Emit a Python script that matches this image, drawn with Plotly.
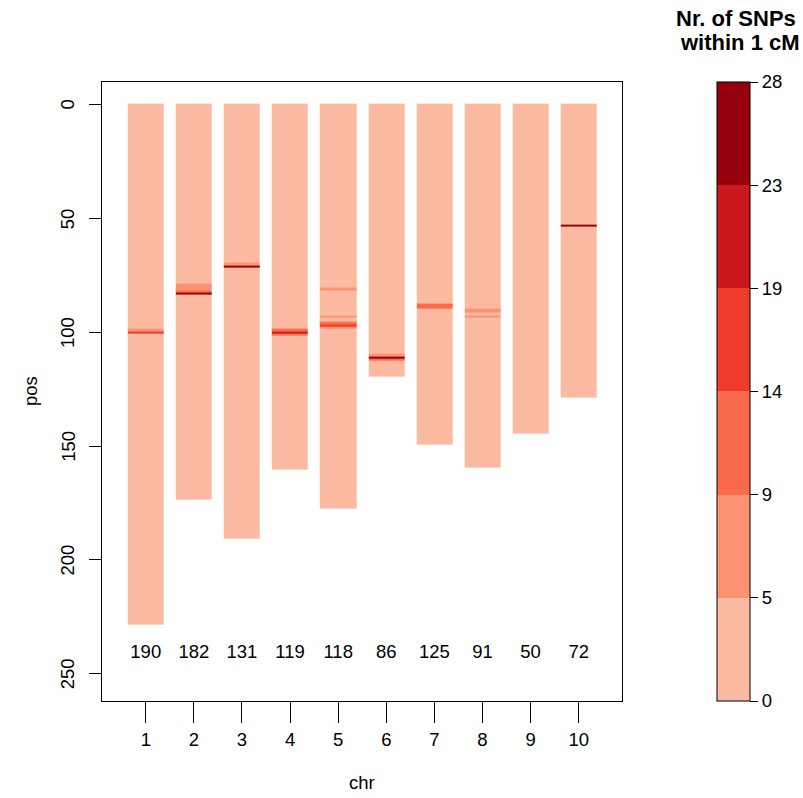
import numpy as np
import plotly.graph_objects as go

# ---------------- data ----------------
chromosomes = [1, 2, 3, 4, 5, 6, 7, 8, 9, 10]
# last 1-cM window (position, cM) of each chromosome
chr_last_pos = [228, 173, 190, 160, 177, 119, 149, 159, 144, 128]
# number of SNPs per chromosome (printed below bars)
n_snps = [190, 182, 131, 119, 118, 86, 125, 91, 50, 72]
# SNP counts in dense 1-cM windows, per chromosome {position: count}
hot_1 = {99: 7, 100: 16}
hot_2 = {79: 6, 80: 6, 81: 6, 82: 10, 83: 26}
hot_3 = {70: 6, 71: 25}
hot_4 = {99: 11, 100: 20, 101: 11}
hot_5 = {81: 6, 93: 6, 96: 10, 97: 15, 98: 6}
hot_6 = {110: 6, 111: 24, 112: 11}
hot_7 = {88: 11, 89: 11}
hot_8 = {90: 7, 91: 7, 93: 6}
hot_9 = {}
hot_10 = {53: 26}
hotspots = [hot_1, hot_2, hot_3, hot_4, hot_5, hot_6, hot_7, hot_8, hot_9, hot_10]
background_count = 1  # all other windows: fewer than 5 SNPs
# colour classes
breaks = [0, 5, 9, 14, 19, 23, 28]
break_labels = ["0", "5", "9", "14", "19", "23", "28"]
class_colors = ["#FCBBA1", "#FC9272", "#FB6A4A", "#EF3B2C", "#CB181D", "#99000D"]
y_ticks = [0, 50, 100, 150, 200, 250]
label_pos = 241

# ---------------- build grid ----------------
max_pos = max(chr_last_pos)
ypos = np.arange(0, max_pos + 1)
z = np.full((len(ypos), len(chromosomes)), np.nan)
for j, (last, hs) in enumerate(zip(chr_last_pos, hotspots)):
    counts = np.full(last + 1, background_count, dtype=float)
    for p, c in hs.items():
        counts[p] = c
    cls = np.digitize(counts, breaks[1:-1])
    z[: last + 1, j] = cls + 0.5

n = len(class_colors)
colorscale = []
for i, c in enumerate(class_colors):
    colorscale.append([i / n, c])
    colorscale.append([(i + 1) / n, c])

FS = 18.5
PX_L, PX_R, PX_T, PX_B = 102.3, 621.7, 82.0, 700.7
PW, PH = PX_R - PX_L, PX_B - PX_T


def px_x(px):
    return (px - PX_L) / PW


def px_y(py):
    return (PX_B - py) / PH


fig = go.Figure()
fig.add_trace(go.Heatmap(
    x=chromosomes, y=ypos, z=z,
    zmin=0, zmax=n, colorscale=colorscale,
    xgap=12, hoverongaps=False,
    colorbar=dict(
        x=px_x(717), xanchor="left", xpad=0, y=0.5, yanchor="middle", ypad=0,
        len=1, lenmode="fraction", thickness=33, thicknessmode="pixels",
        outlinewidth=1, outlinecolor="black",
        tickvals=list(range(n + 1)), ticktext=break_labels,
        ticks="outside", ticklen=8, tickcolor="black", tickwidth=1,
        tickfont=dict(size=FS, color="black"),
    ),
))
fig.add_trace(go.Scatter(
    x=chromosomes, y=[label_pos] * len(chromosomes),
    text=[str(v) for v in n_snps], mode="text",
    textfont=dict(size=FS, color="black"), hoverinfo="skip", showlegend=False,
))

TS = 22
annotations = [
    dict(text="chr", xref="paper", yref="paper", x=0.5, y=px_y(782),
         xanchor="center", yanchor="middle", showarrow=False, font=dict(size=FS)),
    dict(text="pos", xref="paper", yref="paper", x=px_x(31), y=0.5,
         xanchor="center", yanchor="middle", textangle=-90, showarrow=False,
         font=dict(size=FS)),
    dict(text="<b>Nr. of SNPs</b>", xref="paper", yref="paper",
         x=px_x(797), y=px_y(19),
         xanchor="right", yanchor="middle", showarrow=False, font=dict(size=TS)),
    dict(text="<b>within 1 cM</b>", xref="paper", yref="paper",
         x=px_x(801), y=px_y(43),
         xanchor="right", yanchor="middle", showarrow=False, font=dict(size=TS)),
]
for v in y_ticks:
    annotations.append(dict(text=str(v), xref="paper", yref="y", x=px_x(68), y=v,
                            xanchor="center", yanchor="middle", textangle=-90,
                            showarrow=False, font=dict(size=FS)))

W, H = 803, 798
fig.update_layout(
    width=W, height=H,
    margin=dict(l=PX_L, r=W - PX_R, t=PX_T, b=H - PX_B, pad=0, autoexpand=False),
    plot_bgcolor="white", paper_bgcolor="white",
    font=dict(family="Liberation Sans, Arial, sans-serif", size=FS, color="black"),
    showlegend=False,
    xaxis=dict(
        range=[0.09, 10.9], tickvals=chromosomes, ticktext=[str(c) for c in chromosomes],
        showgrid=False, zeroline=False, showline=True, mirror=True,
        linecolor="black", linewidth=1, ticks="outside", ticklen=21, tickcolor="black",
        ticklabelstandoff=1,
    ),
    yaxis=dict(
        range=[262, -10], tickvals=y_ticks, showticklabels=False,
        showgrid=False, zeroline=False, showline=True, mirror=True,
        linecolor="black", linewidth=1, ticks="outside", ticklen=12, tickcolor="black",
    ),
    annotations=annotations,
)
fig.write_html("out.html", config={"displayModeBar": False},
               post_script="document.body.style.margin='0';document.body.style.padding='0';")
